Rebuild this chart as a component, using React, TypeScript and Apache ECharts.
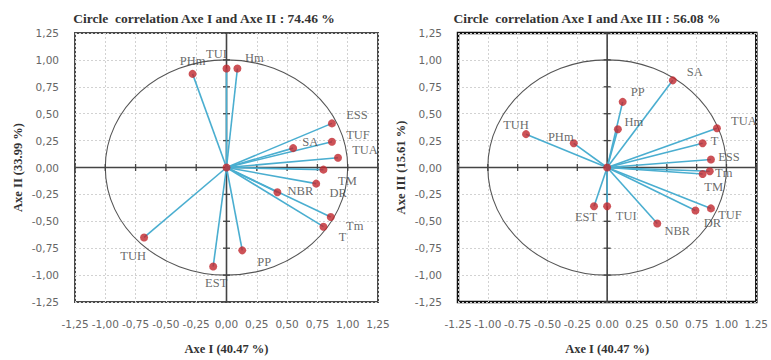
import React, { useEffect, useRef } from "react";
import * as echarts from "echarts";

// ---- data ----
const variables = ["PHm", "TUI", "Hm", "ESS", "TUF", "SA", "TUA", "TM", "DR", "NBR", "Tm", "T", "TUH", "PP", "EST"];
const axeI = [-0.28, 0.0, 0.09, 0.87, 0.87, 0.55, 0.92, 0.8, 0.74, 0.42, 0.86, 0.8, -0.68, 0.13, -0.11];
const axeII = [0.87, 0.92, 0.92, 0.41, 0.24, 0.18, 0.09, -0.02, -0.15, -0.23, -0.46, -0.55, -0.65, -0.77, -0.92];
const axeIII = [0.225, -0.36, 0.355, 0.075, -0.38, 0.81, 0.365, -0.06, -0.4, -0.52, -0.035, 0.225, 0.31, 0.61, -0.36];
const ticks = [-1.25, -1.0, -0.75, -0.5, -0.25, 0.0, 0.25, 0.5, 0.75, 1.0, 1.25];
const titleLeft = "Circle  correlation Axe I and Axe II : 74.46 %";
const titleRight = "Circle  correlation Axe I and Axe III : 56.08 %";
const nameAxeI = "Axe I (40.47 %)";
const nameAxeII = "Axe II (33.99 %)";
const nameAxeIII = "Axe III (15.61 %)";

// ---- label placement (style only) ----
const offsLeft: Record<string, [number, number]> = {
  PHm: [0, -13], TUI: [-10, -15], Hm: [17, -11], ESS: [25, -8], TUF: [26, -7], SA: [17, -6],
  TUA: [27, -8], TM: [24, 11], DR: [22, 9], NBR: [23, -1], Tm: [24, 9], T: [19, 10],
  TUH: [-11, 19], PP: [22, 12], EST: [3, 17],
};
const offsRight: Record<string, [number, number]> = {
  SA: [22, -8], PP: [15, -10], Hm: [16, -7], TUA: [27, -7], TUH: [-10, -9], PHm: [-13, -6],
  T: [12, -2], ESS: [18, -2], Tm: [14, 2], TM: [11, 13], EST: [-8, 11], TUI: [19, 10],
  NBR: [20, 8], DR: [17, 12], TUF: [19, 7],
};

const SERIF = "'Liberation Serif', 'DejaVu Serif', serif";
const SANS = "'DejaVu Sans', sans-serif";
const LINE = "#4aaed0";
const DOT = "#c0272d";

function axisPair(gi: number, xFmt: (v: number) => string, yName: string) {
  const common = {
    gridIndex: gi,
    type: "value" as const,
    min: -1.25,
    max: 1.25,
    interval: 0.25,
    axisLine: { show: false },
    axisTick: { show: false },
    splitLine: { show: true, lineStyle: { color: "#d2d2d2", type: [2, 2], width: 1 } },
  };
  const x = {
    ...common,
    position: "bottom",
    name: nameAxeI,
    nameLocation: "middle",
    nameGap: 40,
    nameTextStyle: { fontFamily: SERIF, fontWeight: "bold", fontSize: 12.5, color: "#333" },
    axisLabel: { formatter: xFmt, margin: 16, fontFamily: SANS, fontSize: 10.5, color: "#666", interval: 0 },
  };
  const y = {
    ...common,
    position: "left",
    name: yName,
    nameLocation: "middle",
    nameGap: 51,
    nameTextStyle: { fontFamily: SERIF, fontWeight: "bold", fontSize: 12.5, color: "#333" },
    axisLabel: { formatter: (v: number) => v.toFixed(2).replace(".", ","), margin: 16, fontFamily: SANS, fontSize: 10.5, color: "#666" },
  };
  return { x, y };
}

function seriesFor(gi: number, ys: number[], offs: Record<string, [number, number]>) {
  const pts = axeI.map((x, i) => [x, ys[i]]);
  return [
    {
      type: "custom",
      xAxisIndex: gi,
      yAxisIndex: gi,
      z: 2,
      silent: true,
      data: [[0, 0]],
      renderItem: (_p: any, api: any) => {
        const c = api.coord([0, 0]);
        const s = api.size([1, 1]);
        return {
          type: "ellipse",
          shape: { cx: c[0], cy: c[1], rx: s[0], ry: s[1] },
          style: { fill: "none", stroke: "#555", lineWidth: 1.1 },
        };
      },
    },
    {
      type: "custom",
      xAxisIndex: gi,
      yAxisIndex: gi,
      z: 3,
      silent: true,
      data: ticks.map((v) => [v, v]),
      renderItem: (p: any, api: any) => {
        const v = api.value(0);
        const cx = api.coord([v, 0]);
        const cy = api.coord([0, v]);
        const st = { stroke: "#444", lineWidth: 1.3 };
        const children: any[] = [
          { type: "line", shape: { x1: cx[0], y1: cx[1] - 3.5, x2: cx[0], y2: cx[1] + 3.5 }, style: st },
          { type: "line", shape: { x1: cy[0] - 3.5, y1: cy[1], x2: cy[0] + 3.5, y2: cy[1] }, style: st },
        ];
        if (p.dataIndex === 0) {
          const a = api.coord([ticks[0], 0]);
          const b = api.coord([ticks[ticks.length - 1], 0]);
          const c = api.coord([0, ticks[0]]);
          const d = api.coord([0, ticks[ticks.length - 1]]);
          children.push({ type: "line", shape: { x1: a[0], y1: a[1], x2: b[0], y2: b[1] }, style: { stroke: "#444", lineWidth: 1.6 } });
          children.push({ type: "line", shape: { x1: c[0], y1: c[1], x2: d[0], y2: d[1] }, style: { stroke: "#444", lineWidth: 1.6 } });
        }
        return { type: "group", children };
      },
    },
    {
      type: "custom",
      xAxisIndex: gi,
      yAxisIndex: gi,
      z: 4,
      silent: true,
      data: pts,
      renderItem: (_p: any, api: any) => {
        const o = api.coord([0, 0]);
        const e = api.coord([api.value(0), api.value(1)]);
        return { type: "line", shape: { x1: o[0], y1: o[1], x2: e[0], y2: e[1] }, style: { stroke: LINE, lineWidth: 1.6 } };
      },
    },
    {
      type: "scatter",
      xAxisIndex: gi,
      yAxisIndex: gi,
      z: 5,
      symbolSize: 8,
      itemStyle: { color: DOT },
      data: [
        ...pts.map((p, i) => ({
          value: p,
          name: variables[i],
          label: {
            show: true,
            formatter: variables[i],
            position: "inside",
            align: "center",
            verticalAlign: "middle",
            offset: offs[variables[i]] || [0, 0],
            fontFamily: SERIF,
            fontSize: 12.5,
            color: "#444",
          },
        })),
        { value: [0, 0], name: "origin", label: { show: false } },
      ],
    },
  ];
}

export default function App() {
  const ref = useRef<HTMLDivElement>(null);
  useEffect(() => {
    if (!ref.current) return;
    const chart = echarts.init(ref.current, null, { renderer: "svg" });
    const a0 = axisPair(0, (v: number) => v.toFixed(2).replace(".", ","), nameAxeII);
    const a1 = axisPair(1, (v: number) => v.toFixed(2), nameAxeIII);
    chart.setOption({
      animation: false,
      backgroundColor: "#ffffff",
      grid: [
        { left: 75, top: 33, width: 303, height: 271, show: true, borderColor: "#4a4a4a", borderWidth: 2, backgroundColor: "transparent" },
        { left: 458, top: 33, width: 303, height: 271, show: true, borderColor: "#111", borderWidth: 2.5, backgroundColor: "transparent" },
      ],
      xAxis: [a0.x, a1.x],
      yAxis: [a0.y, a1.y],
      graphic: [
        { type: "text", x: 204, y: 18, style: { text: titleLeft, align: "center", verticalAlign: "middle", fontFamily: SERIF, fontWeight: "bold", fontSize: 13.5, fill: "#333" } },
        { type: "text", x: 587, y: 18, style: { text: titleRight, align: "center", verticalAlign: "middle", fontFamily: SERIF, fontWeight: "bold", fontSize: 13.5, fill: "#333" } },
      ],
      series: [...seriesFor(0, axeII, offsLeft), ...seriesFor(1, axeIII, offsRight)],
    });
    return () => chart.dispose();
  }, []);
  return <div ref={ref} style={{ position: "absolute", left: 0, top: 0, width: 771, height: 360 }} />;
}
